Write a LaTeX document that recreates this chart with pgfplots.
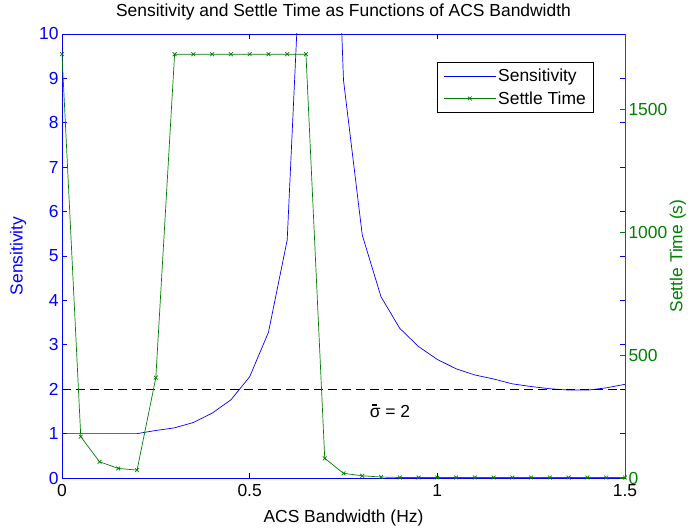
\documentclass[border=0pt]{standalone}
\usepackage{pgfplots}
\pgfplotsset{compat=1.18}
\usepackage{pgfplotstable}
\usepackage{fontspec}
\setmainfont{Liberation Sans}
\definecolor{mblue}{rgb}{0,0,1}
\definecolor{mgreen}{rgb}{0,0.5,0}

\pgfplotstableread{
x s
0 1.00
0.05 1.00
0.10 1.00
0.15 1.00
0.20 1.00
0.25 1.07
0.30 1.13
0.35 1.25
0.40 1.46
0.45 1.76
0.50 2.28
0.55 3.28
0.60 5.36
0.65 14.5
0.70 20.6
0.75 8.96
0.80 5.47
0.85 4.08
0.90 3.37
0.95 2.96
1.00 2.67
1.05 2.46
1.10 2.32
1.15 2.23
1.20 2.12
1.25 2.06
1.30 2.01
1.35 1.98
1.40 1.98
1.45 2.03
1.50 2.11
}\senstable

\pgfplotstableread{
x t
0 1723
0.05 168
0.10 66
0.15 39
0.20 32
0.25 408
0.30 1723
0.35 1723
0.40 1723
0.45 1723
0.50 1723
0.55 1723
0.60 1723
0.65 1723
0.70 80
0.75 19
0.80 9
0.85 4
0.90 2
0.95 2
1.00 2
1.05 2
1.10 2
1.15 2
1.20 2
1.25 2
1.30 2
1.35 2
1.40 2
1.45 2
1.50 2
}\settletable

\newcommand{\fs}{\fontsize{17.5}{21}\selectfont}

\pgfplotsset{
  common/.style={
    scale only axis, width=563bp, height=444bp,
    at={(0,0)}, anchor=south west,
    xmin=0, xmax=1.5,
    tick align=inside, major tick length=5bp,
    /pgf/number format/assume math mode=true,
    /pgf/number format/1000 sep={},
    ticklabel style={font=\fs},
    label style={font=\fs},
    every axis plot/.append style={line width=0.7bp},
  }
}

\begin{document}
\begin{tikzpicture}[font=\fs]
\useasboundingbox (-62bp,-51bp) rectangle (628bp,478bp);
\begin{axis}[common,
  ymin=0, ymax=10,
  xtick={0,0.5,1,1.5}, xticklabels={0,0.5,1,1.5},
  ytick={0,1,2,3,4,5,6,7,8,9,10},
  x axis line style={black, line width=0.7bp},
  y axis line style={mblue, line width=0.7bp},
  x tick style={black, line width=0.6bp},
  y tick style={mblue, line width=0.6bp},
  yticklabel style={text=mblue},
  xticklabel style={text=black, yshift=-3bp},
  title={Sensitivity and Settle Time as Functions of ACS Bandwidth},
  title style={at={(axis description cs:0.5,1.036)}, anchor=center, font=\fs},
  xlabel={ACS Bandwidth (Hz)},
  xlabel style={at={(axis description cs:0.5,-0.09)}, anchor=center},
  ylabel={Sensitivity},
  ylabel style={at={(axis description cs:-0.078,0.5)}, anchor=center, text=mblue},
]
\addplot[mblue, no marks] table[x=x, y=s] {\senstable};
\addplot[black, dash pattern=on 9bp off 5bp, no marks] coordinates {(0,2) (1.5,2)};
\node[anchor=center] at (axis cs:0.874,1.51) {\rlap{\raisebox{0.68em}{\kern0.13em\rule{0.3em}{0.07em}}}σ = 2};
\end{axis}
\begin{axis}[common,
  ymin=0, ymax=1805,
  axis x line=none,
  axis y line*=right,
  ytick={0,500,1000,1500},
  y axis line style={mgreen, line width=0.7bp},
  y tick style={mgreen, line width=0.6bp},
  yticklabel style={text=mgreen},
  ylabel={Settle Time (s)},
  ylabel style={at={(axis description cs:1.094,0.5)}, anchor=center, rotate=0, text=mgreen},
  legend style={at={(axis description cs:0.945,0.937)}, anchor=north east,
    draw=black, line width=0.6bp, font=\fs,
    row sep=4bp, inner xsep=6bp, inner ysep=5bp},
  legend cell align=left,
  legend image code/.code={\draw[mark repeat=2, mark phase=2, #1] plot coordinates {(0bp,0bp) (26bp,0bp) (52bp,0bp)};},
]
\addlegendimage{mblue, no marks, line width=0.9bp}
\addlegendentry{Sensitivity}
\addplot[mgreen, mark=x, mark size=2.7bp, mark options={solid}] table[x=x, y=t] {\settletable};
\addlegendentry{Settle Time}
\end{axis}
\end{tikzpicture}
\end{document}
